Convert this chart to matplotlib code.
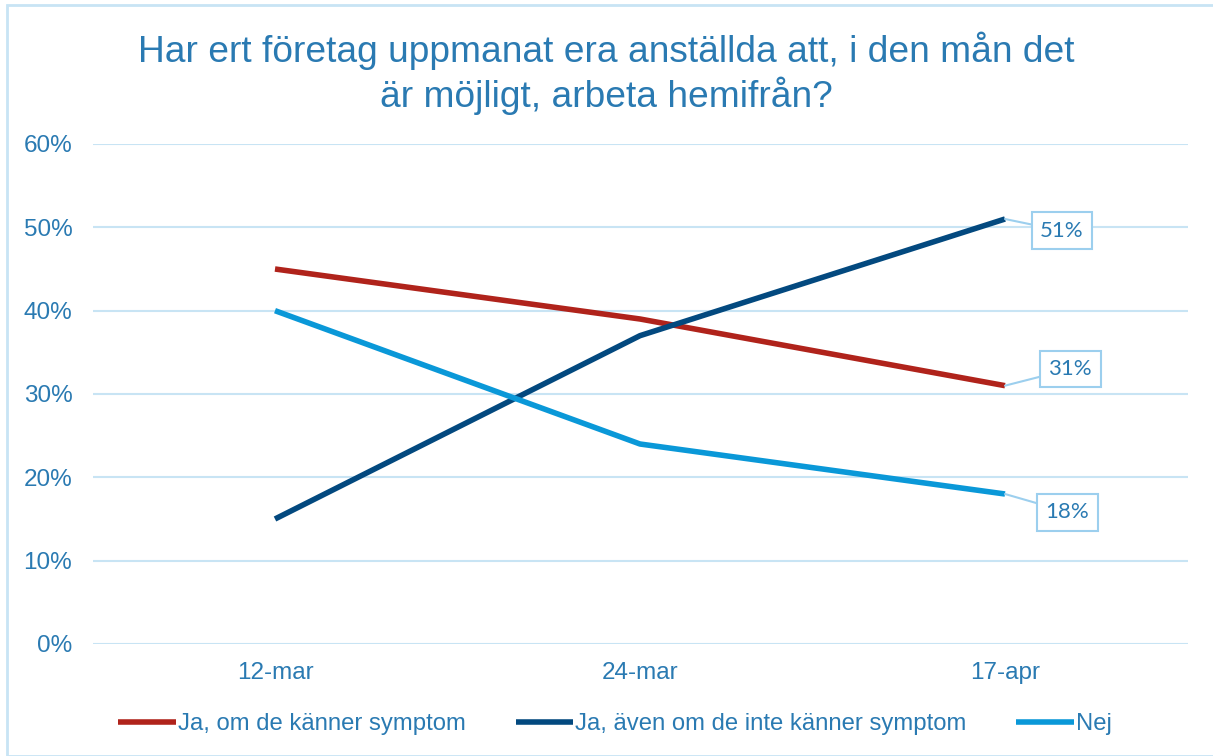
import matplotlib.pyplot as plt
from matplotlib.patches import Rectangle

dates = ['12-mar', '24-mar', '17-apr']
ja_symptom = [45, 39, 31]
ja_aven = [15, 37, 51]
nej = [40, 24, 18]
labels = ['Ja, om de känner symptom', 'Ja, även om de inte känner symptom', 'Nej']
colors = ['#B0231B', '#03497F', '#0A98D8']
yticks = [0, 10, 20, 30, 40, 50, 60]

text_col = '#2A7AB2'
grid_col = '#C8E4F4'
box_col = '#9CCFEE'

plt.rcParams['font.family'] = ['Liberation Sans', 'DejaVu Sans']

fig = plt.figure(figsize=(12.13, 7.56), dpi=100)
ax = fig.add_axes([92.5 / 1213, 1 - 644 / 756, 1095 / 1213, 500 / 756])

x = range(len(dates))
for vals, lab, c in zip([ja_symptom, ja_aven, nej], labels, colors):
    ax.plot(x, vals, color=c, lw=4, label=lab, solid_capstyle='butt')

ax.set_xlim(-0.5, 2.5)
ax.set_ylim(0, 60)
ax.set_yticks(yticks)
ax.set_yticklabels([f'{v}%' for v in yticks])
ax.set_xticks(list(x))
ax.set_xticklabels(dates)
ax.grid(axis='y', color=grid_col, lw=1.5)
ax.set_axisbelow(True)
for s in ax.spines.values():
    s.set_visible(False)
ax.tick_params(length=0, labelsize=17.5, labelcolor=text_col)
ax.tick_params(axis='y', pad=14.5)
ax.tick_params(axis='x', pad=13)

# end-point labels with callout boxes
offsets = {51: (41, -8.5), 31: (47, 12), 18: (45, -13)}
for vals in [ja_aven, ja_symptom, nej]:
    v = vals[-1]
    ax.annotate(f'{v}%', xy=(2, v), xytext=offsets[v], textcoords='offset points',
                ha='center', va='center', fontsize=16, color=text_col, family='Lato',
                bbox=dict(boxstyle='square,pad=0.38', fc='white', ec=box_col, lw=1.5),
                arrowprops=dict(arrowstyle='-', color=box_col, lw=1.5, shrinkA=0, shrinkB=0))

fig.suptitle('Har ert företag uppmanat era anställda att, i den mån det\när möjligt, arbeta hemifrån?',
             y=0.958, fontsize=26.7, color=text_col, linespacing=1.2)

leg = fig.legend(loc='center', bbox_to_anchor=(0.507, 0.042), ncol=3, frameon=False,
                 fontsize=17.2, handlelength=2.4, handletextpad=0.08, columnspacing=2.1)
for t in leg.get_texts():
    t.set_color(text_col)

fig.patches.append(Rectangle((7 / 1213, 0), 1, 1 - 5 / 756, transform=fig.transFigure,
                             fill=False, ec=grid_col, lw=2))

fig.savefig('out.png', dpi=100)
